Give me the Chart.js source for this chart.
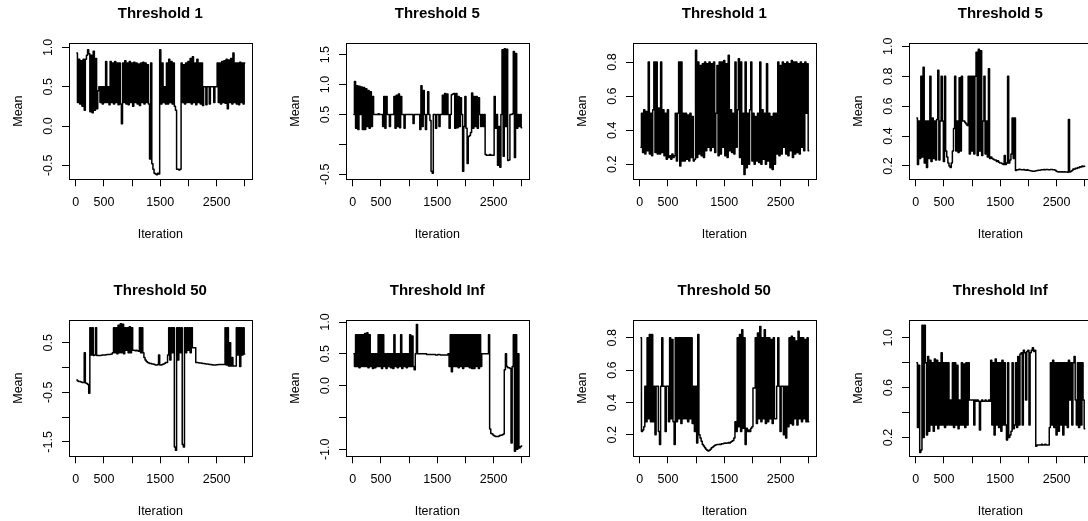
<!DOCTYPE html>
<html>
<head>
<meta charset="utf-8">
<script src="https://cdn.jsdelivr.net/npm/chart.js@4.4.1/dist/chart.umd.min.js"></script>
<style>
  html, body { margin: 0; padding: 0; background: #fff; overflow: hidden; }
  #wrap { position: relative; width: 1088px; height: 521px; overflow: hidden; }
  #wrap canvas { position: absolute; }
</style>
</head>
<body>
<div id="wrap"></div>
<script>
const FONT = '"Liberation Sans", Arial, Helvetica, sans-serif';
const STEP = 20; // iterations between stored samples

const xTicks = [0, 500, 1000, 1500, 2000, 2500, 3000];
const xTickLabels = ["0", "500", "", "1500", "", "2500", ""];
const xRange = [-120, 3120];

// ---- left figure, top row: Threshold 1
const meanT1Left = [
  0.93, 0.3, 0.85, 0.28, 0.83, 0.25, 0.85, 0.2, 0.85, 0.9,
  0.97, 0.92, 0.18, 0.9, 0.17, 0.95, 0.2, 0.86, 0.22, 0.45,
  0.5, 0.3, 0.5, 0.28, 0.5, 0.3, 0.82, 0.3, 0.5, 0.27,
  0.82, 0.3, 0.8, 0.28, 0.82, 0.3, 0.8, 0.27, 0.8, 0.28,
  0.03, 0.8, 0.3, 0.83, 0.28, 0.8, 0.27, 0.82, 0.3, 0.8,
  0.25, 0.81, 0.3, 0.8, 0.28, 0.79, 0.26, 0.8, 0.3, 0.81,
  0.28, 0.8, 0.3, 0.78, 0.28, -0.42, 0.8, -0.48, -0.55, -0.6,
  -0.61, -0.62, -0.6, -0.61, 0.97, 0.28, 0.8, 0.3, 0.5, 0.28,
  0.8, 0.28, 0.85, 0.3, 0.82, 0.28, 0.8, 0.25, 0.2, -0.55,
  -0.55, -0.56, -0.55, 0.8, 0.3, 0.78, 0.28, 0.8, 0.3, 0.82,
  0.3, 0.86, 0.28, 0.88, 0.3, 0.8, 0.27, 0.85, 0.3, 0.8,
  0.28, 0.8, 0.26, 0.5, 0.5, 0.27, 0.5, 0.5, 0.28, 0.5,
  0.5, 0.5, 0.3, 0.5, 0.5, 0.8, 0.3, 0.8, 0.28, 0.82,
  0.3, 0.83, 0.29, 0.85, 0.22, 0.84, 0.3, 0.86, 0.28, 0.93,
  0.3, 0.8, 0.28, 0.8, 0.27, 0.81, 0.3, 0.8, 0.28, 0.8
];
const ticksT1Left = [-0.5, 0, 0.5, 1];
const labelsT1Left = ["-0.5", "0.0", "0.5", "1.0"];
const rangeT1Left = [-0.678, 1.056];

// ---- left figure, top row: Threshold 5
const meanT5Left = [
  0.5, 1.05, 0.27, 0.98, 0.25, 0.97, 0.5, 0.96, 0.25, 0.95,
  0.25, 0.93, 0.3, 0.9, 0.27, 0.88, 0.3, 0.8, 0.5, 0.5,
  0.5, 0.5, 0.51, 0.5, 0.5, 0.5, 0.3, 0.8, 0.27, 0.8,
  0.5, 0.5, 0.3, 0.5, 0.5, 0.5, 0.8, 0.27, 0.82, 0.3,
  0.84, 0.28, 0.8, 0.5, 0.5, 0.27, 0.5, 0.5, 0.5, 0.5,
  0.5, 0.5, 0.5, 0.35, 0.5, 0.5, 0.5, 0.5, 0.5, 0.25,
  0.98, 0.3, 0.9, 0.5, 0.25, 0.5, 0.88, 0.5, 0.4, -0.45,
  -0.48, 0.5, 0.5, 0.27, 0.5, 0.5, 0.3, 0.5, 0.5, 0.82,
  0.5, 0.85, 0.5, 0.84, 0.5, 0.27, 0.5, 0.83, 0.84, 0.85,
  0.27, 0.85, 0.28, 0.8, 0.3, 0.78, 0.5, -0.45, 0.3, 0.8,
  0.27, -0.32, 0.13, 0.15, 0.2, 0.86, 0.27, 0.8, 0.3, 0.8,
  0.27, 0.78, 0.5, 0.3, 0.5, 0.3, 0.5, -0.17, -0.18, -0.18,
  -0.18, -0.17, -0.18, -0.18, -0.18, 0.8, 0.27, 0.5, -0.35, 0.3,
  -0.38, 0.5, 1.58, -0.2, 1.6, 0.3, 1.59, -0.27, -0.26, 0.5,
  0.5, 0.51, 1.55, -0.22, 1.52, 0.27, 0.5, 0.3, 0.5, 0.28
];
const ticksT5Left = [-0.5, 0, 0.5, 1, 1.5];
const labelsT5Left = ["-0.5", "", "0.5", "1.0", "1.5"];
const rangeT5Left = [-0.583, 1.694];

// ---- right figure, top row: Threshold 1
const meanT1Right = [
  0.3, 0.5, 0.27, 0.52, 0.26, 0.51, 0.28, 0.8, 0.26, 0.5,
  0.25, 0.52, 0.8, 0.27, 0.8, 0.26, 0.53, 0.26, 0.8, 0.27,
  0.52, 0.25, 0.5, 0.23, 0.52, 0.24, 0.25, 0.23, 0.26, 0.24,
  0.25, 0.5, 0.22, 0.5, 0.8, 0.19, 0.8, 0.22, 0.5, 0.22,
  0.5, 0.23, 0.49, 0.22, 0.5, 0.24, 0.48, 0.22, 0.23, 0.87,
  0.24, 0.8, 0.26, 0.78, 0.25, 0.79, 0.24, 0.8, 0.28, 0.79,
  0.3, 0.8, 0.28, 0.79, 0.3, 0.8, 0.27, 0.5, 0.78, 0.25,
  0.8, 0.26, 0.8, 0.3, 0.81, 0.25, 0.79, 0.24, 0.84, 0.28,
  0.52, 0.27, 0.5, 0.26, 0.8, 0.3, 0.52, 0.82, 0.24, 0.8,
  0.2, 0.5, 0.14, 0.8, 0.18, 0.5, 0.2, 0.52, 0.8, 0.22,
  0.5, 0.2, 0.48, 0.22, 0.5, 0.21, 0.8, 0.2, 0.52, 0.23,
  0.5, 0.2, 0.79, 0.22, 0.5, 0.18, 0.48, 0.17, 0.5, 0.2,
  0.5, 0.26, 0.8, 0.25, 0.78, 0.26, 0.8, 0.3, 0.79, 0.26,
  0.8, 0.25, 0.79, 0.28, 0.81, 0.24, 0.8, 0.26, 0.8, 0.27,
  0.79, 0.26, 0.8, 0.3, 0.79, 0.28, 0.8, 0.5, 0.79, 0.28
];
const ticksT1Right = [0.2, 0.4, 0.6, 0.8];
const labelsT1Right = ["0.2", "0.4", "0.6", "0.8"];
const rangeT1Right = [0.112, 0.912];

// ---- right figure, top row: Threshold 5
const meanT5Right = [
  0.52, 0.21, 0.5, 0.25, 0.8, 0.26, 0.86, 0.22, 0.5, 0.19,
  0.5, 0.25, 0.8, 0.23, 0.52, 0.25, 0.5, 0.24, 0.51, 0.84,
  0.24, 0.5, 0.8, 0.5, 0.23, 0.8, 0.3, 0.26, 0.22, 0.2,
  0.19, 0.22, 0.3, 0.45, 0.8, 0.3, 0.5, 0.29, 0.79, 0.3,
  0.8, 0.5, 0.5, 0.49, 0.48, 0.47, 0.8, 0.28, 0.8, 0.3,
  0.8, 0.28, 0.8, 0.96, 0.27, 0.98, 0.3, 0.97, 0.27, 0.5,
  0.8, 0.28, 0.5, 0.26, 0.85, 0.25, 0.26, 0.25, 0.245, 0.24,
  0.24, 0.23, 0.235, 0.225, 0.22, 0.22, 0.215, 0.21, 0.27, 0.21,
  0.22, 0.8, 0.22, 0.24, 0.28, 0.52, 0.25, 0.52, 0.17, 0.175,
  0.175, 0.178, 0.176, 0.174, 0.175, 0.177, 0.173, 0.172, 0.174, 0.171,
  0.17, 0.168, 0.166, 0.165, 0.164, 0.166, 0.168, 0.17, 0.172, 0.171,
  0.173, 0.175, 0.174, 0.176, 0.175, 0.177, 0.176, 0.174, 0.175, 0.176,
  0.176, 0.175, 0.174, 0.172, 0.165, 0.162, 0.16, 0.161, 0.16, 0.162,
  0.16, 0.161, 0.159, 0.16, 0.158, 0.51, 0.16, 0.165, 0.17, 0.18,
  0.178, 0.185, 0.183, 0.19, 0.188, 0.195, 0.193, 0.2, 0.197, 0.198
];
const ticksT5Right = [0.2, 0.4, 0.6, 0.8, 1.0];
const labelsT5Right = ["0.2", "0.4", "0.6", "0.8", "1.0"];
const rangeT5Right = [0.111, 1.022];

// ---- left figure, bottom row: Threshold 50
const meanT50Left = [
  -0.25, -0.27, -0.28, -0.28, -0.29, -0.3, -0.3, 0.3, -0.31, -0.32,
  -0.34, -0.52, 0.8, 0.25, 0.8, 0.24, 0.25, 0.8, 0.24, 0.24,
  0.24, 0.24, 0.245, 0.25, 0.25, 0.25, 0.255, 0.26, 0.26, 0.26,
  0.265, 0.27, 0.3, 0.8, 0.3, 0.8, 0.28, 0.85, 0.3, 0.88,
  0.3, 0.87, 0.28, 0.8, 0.35, 0.8, 0.3, 0.82, 0.3, 0.8,
  0.35, 0.35, 0.34, 0.35, 0.34, 0.33, 0.8, 0.3, 0.8, 0.3,
  0.2, 0.15, 0.12, 0.1, 0.09, 0.08, 0.08, 0.07, 0.07, 0.06,
  0.05, 0.05, 0.06, 0.25, 0.05, 0.05, 0.06, 0.07, 0.08, 0.1,
  0.1, 0.25, 0.8, 0.15, 0.8, 0.3, 0.8, -1.6, -1.67, 0.8,
  0.15, 0.8, 0.3, 0.8, -1.55, -1.6, 0.8, 0.3, 0.8, 0.35,
  0.8, 0.3, 0.8, 0.4, 0.4, 0.4, 0.1, 0.1, 0.095, 0.09,
  0.09, 0.085, 0.08, 0.08, 0.075, 0.07, 0.07, 0.065, 0.06, 0.06,
  0.055, 0.05, 0.05, 0.05, 0.055, 0.055, 0.06, 0.06, 0.06, 0.06,
  0.06, 0.06, 0.8, 0.05, 0.8, 0.03, 0.5, 0.03, 0.2, 0.03,
  0.03, 0.03, 0.8, 0.25, 0.8, 0.02, 0.8, 0.25, 0.8, 0.27
];
const ticksT50Left = [-1.5, -1, -0.5, 0, 0.5];
const labelsT50Left = ["-1.5", "", "-0.5", "", "0.5"];
const rangeT50Left = [-1.79, 0.958];

// ---- left figure, bottom row: Threshold Inf
const meanTInfLeft = [
  0.5, 0.3, 0.8, 0.3, 0.8, 0.28, 0.8, 0.3, 0.8, 0.3,
  0.82, 0.3, 0.83, 0.28, 0.8, 0.3, 0.5, 0.27, 0.5, 0.28,
  0.5, 0.3, 0.8, 0.3, 0.8, 0.27, 0.8, 0.3, 0.5, 0.27,
  0.5, 0.3, 0.5, 0.28, 0.5, 0.27, 0.8, 0.3, 0.5, 0.28,
  0.5, 0.3, 0.8, 0.27, 0.5, 0.3, 0.5, 0.28, 0.5, 0.3,
  0.8, 0.3, 0.78, 0.3, 0.25, 0.5, 0.96, 0.5, 0.5, 0.5,
  0.5, 0.5, 0.5, 0.5, 0.5, 0.49, 0.49, 0.49, 0.49, 0.49,
  0.49, 0.49, 0.49, 0.48, 0.48, 0.49, 0.49, 0.48, 0.48, 0.48,
  0.48, 0.48, 0.48, 0.48, 0.5, 0.3, 0.8, 0.22, 0.8, 0.3,
  0.8, 0.3, 0.8, 0.28, 0.8, 0.3, 0.8, 0.27, 0.8, 0.3,
  0.8, 0.3, 0.8, 0.28, 0.8, 0.27, 0.8, 0.27, 0.8, 0.3,
  0.8, 0.27, 0.8, 0.3, 0.5, 0.5, 0.5, 0.5, 0.5, 0.5,
  0.8, -0.68, -0.75, -0.76, -0.78, -0.79, -0.8, -0.8, -0.8, -0.79,
  -0.78, -0.78, -0.77, -0.76, 0.25, 0.5, 0.3, 0.28, 0.28, 0.27,
  -0.9, 0.3, 0.8, -1.03, 0.8, -1.0, 0.5, -0.98, -0.96, -0.95
];
const ticksTInfLeft = [-1, -0.5, 0, 0.5, 1];
const labelsTInfLeft = ["-1.0", "", "0.0", "0.5", "1.0"];
const rangeTInfLeft = [-1.11, 1.032];

// ---- right figure, bottom row: Threshold 50
const meanT50Right = [
  0.8, 0.22, 0.23, 0.25, 0.5, 0.28, 0.8, 0.3, 0.82, 0.28,
  0.82, 0.28, 0.5, 0.2, 0.5, 0.5, 0.22, 0.14, 0.5, 0.8,
  0.5, 0.5, 0.22, 0.5, 0.5, 0.28, 0.8, 0.3, 0.79, 0.28,
  0.14, 0.8, 0.28, 0.8, 0.3, 0.8, 0.27, 0.8, 0.3, 0.8,
  0.3, 0.8, 0.28, 0.8, 0.3, 0.8, 0.27, 0.5, 0.22, 0.5,
  0.15, 0.82, 0.2, 0.18, 0.16, 0.14, 0.13, 0.12, 0.11, 0.105,
  0.1, 0.105, 0.11, 0.12, 0.125, 0.13, 0.135, 0.138, 0.14, 0.14,
  0.142, 0.14, 0.145, 0.145, 0.148, 0.15, 0.148, 0.15, 0.152, 0.15,
  0.155, 0.16, 0.165, 0.18, 0.28, 0.22, 0.8, 0.25, 0.82, 0.22,
  0.85, 0.24, 0.8, 0.14, 0.24, 0.22, 0.23, 0.22, 0.24, 0.25,
  0.49, 0.49, 0.8, 0.27, 0.83, 0.3, 0.87, 0.28, 0.8, 0.3,
  0.85, 0.27, 0.8, 0.28, 0.8, 0.3, 0.79, 0.27, 0.8, 0.3,
  0.3, 0.5, 0.8, 0.5, 0.22, 0.5, 0.5, 0.2, 0.5, 0.18,
  0.5, 0.25, 0.8, 0.27, 0.81, 0.26, 0.8, 0.3, 0.78, 0.26,
  0.84, 0.3, 0.8, 0.28, 0.8, 0.3, 0.79, 0.28, 0.8, 0.28
];
const ticksT50Right = [0.2, 0.4, 0.6, 0.8];
const labelsT50Right = ["0.2", "0.4", "0.6", "0.8"];
const rangeT50Right = [0.067, 0.91];

// ---- right figure, bottom row: Threshold Inf
const meanTInfRight = [
  0.8, 0.28, 0.78, 0.08, 0.1, 1.1, 0.2, 1.1, 0.8, 0.22,
  0.85, 0.25, 0.82, 0.3, 0.8, 0.25, 0.83, 0.3, 0.82, 0.27,
  0.8, 0.3, 0.88, 0.3, 0.8, 0.28, 0.8, 0.3, 0.8, 0.3,
  0.5, 0.3, 0.8, 0.28, 0.8, 0.3, 0.78, 0.27, 0.5, 0.3,
  0.8, 0.3, 0.79, 0.28, 0.8, 0.3, 0.8, 0.5, 0.5, 0.5,
  0.5, 0.3, 0.5, 0.49, 0.5, 0.49, 0.26, 0.49, 0.5, 0.49,
  0.49, 0.5, 0.49, 0.49, 0.5, 0.49, 0.82, 0.3, 0.8, 0.22,
  0.83, 0.3, 0.8, 0.28, 0.8, 0.25, 0.82, 0.3, 0.8, 0.3,
  0.18, 0.8, 0.2, 0.22, 0.25, 0.8, 0.27, 0.3, 0.8, 0.28,
  0.85, 0.3, 0.87, 0.88, 0.3, 0.9, 0.88, 0.5, 0.89, 0.9,
  0.3, 0.88, 0.9, 0.92, 0.89, 0.9, 0.13, 0.14, 0.14, 0.14,
  0.14, 0.145, 0.14, 0.14, 0.145, 0.14, 0.14, 0.14, 0.28, 0.8,
  0.3, 0.82, 0.28, 0.8, 0.22, 0.8, 0.25, 0.8, 0.3, 0.8,
  0.22, 0.8, 0.3, 0.8, 0.28, 0.82, 0.5, 0.8, 0.3, 0.8,
  0.85, 0.5, 0.3, 0.8, 0.28, 0.8, 0.3, 0.8, 0.5, 0.27
];
const ticksTInfRight = [0.2, 0.4, 0.6, 0.8, 1.0];
const labelsTInfRight = ["0.2", "", "0.6", "", "1.0"];
const rangeTInfRight = [0.049, 1.143];

const panels = [
  { title: "Threshold 1", values: meanT1Left, ticks: ticksT1Left, labels: labelsT1Left, range: rangeT1Left, left: 0, top: 0 },
  { title: "Threshold 5", values: meanT5Left, ticks: ticksT5Left, labels: labelsT5Left, range: rangeT5Left, left: 277, top: 0 },
  { title: "Threshold 1", values: meanT1Right, ticks: ticksT1Right, labels: labelsT1Right, range: rangeT1Right, left: 564, top: 0 },
  { title: "Threshold 5", values: meanT5Right, ticks: ticksT5Right, labels: labelsT5Right, range: rangeT5Right, left: 840, top: 0 },
  { title: "Threshold 50", values: meanT50Left, ticks: ticksT50Left, labels: labelsT50Left, range: rangeT50Left, left: 0, top: 277 },
  { title: "Threshold Inf", values: meanTInfLeft, ticks: ticksTInfLeft, labels: labelsTInfLeft, range: rangeTInfLeft, left: 277, top: 277 },
  { title: "Threshold 50", values: meanT50Right, ticks: ticksT50Right, labels: labelsT50Right, range: rangeT50Right, left: 564, top: 277 },
  { title: "Threshold Inf", values: meanTInfRight, ticks: ticksTInfRight, labels: labelsTInfRight, range: rangeTInfRight, left: 840, top: 277 }
];

// box, title, rotated y labels and axis titles in the style of base R
const rFrame = {
  id: "rFrame",
  afterDraw(chart, args, opts) {
    const { ctx, chartArea: a } = chart;
    const yScale = chart.scales.y;
    const cx = (a.left + a.right) / 2;
    const cy = (a.top + a.bottom) / 2;

    ctx.save();
    ctx.strokeStyle = "#000";
    ctx.lineWidth = 1;
    ctx.strokeRect(Math.round(a.left) + 0.5, Math.round(a.top) + 0.5,
      Math.round(a.right - a.left), Math.round(a.bottom - a.top));

    ctx.fillStyle = "#000";
    ctx.textAlign = "center";
    ctx.textBaseline = "alphabetic";
    ctx.font = "bold 15px " + FONT;
    ctx.fillText(opts.title, cx, a.top - 25.5);

    ctx.font = "12.5px " + FONT;
    ctx.fillText("Iteration", cx, a.bottom + 58.5);

    yScale.ticks.forEach((t, i) => {
      const lab = opts.labels[i];
      if (!lab) return;
      ctx.save();
      ctx.translate(a.left - 17, yScale.getPixelForValue(t.value));
      ctx.rotate(-Math.PI / 2);
      ctx.fillText(lab, 0, 0);
      ctx.restore();
    });

    ctx.save();
    ctx.translate(a.left - 47.5, cy);
    ctx.rotate(-Math.PI / 2);
    ctx.fillText("Mean", 0, 0);
    ctx.restore();
    ctx.restore();
  }
};

const wrap = document.getElementById("wrap");

panels.forEach((p) => {
  const canvas = document.createElement("canvas");
  canvas.width = 277;
  canvas.height = 277;
  canvas.style.left = p.left + "px";
  canvas.style.top = p.top + "px";
  wrap.appendChild(canvas);

  const points = p.values.map((v, i) => ({ x: (i + 1) * STEP, y: v }));

  new Chart(canvas.getContext("2d"), {
    type: "line",
    data: {
      datasets: [{
        data: points,
        borderColor: "#000",
        borderWidth: 1.5,
        borderJoinStyle: "round",
        borderCapStyle: "round",
        stepped: "middle",
        pointRadius: 0,
        fill: false
      }]
    },
    plugins: [rFrame],
    options: {
      responsive: false,
      animation: false,
      devicePixelRatio: 1,
      layout: { padding: { left: 49, right: 25.5, top: 43, bottom: 37.7 } },
      plugins: {
        legend: { display: false },
        tooltip: { enabled: false },
        rFrame: { title: p.title, labels: p.labels }
      },
      scales: {
        x: {
          type: "linear",
          min: xRange[0],
          max: xRange[1],
          afterBuildTicks: (s) => { s.ticks = xTicks.map((v) => ({ value: v })); },
          afterFit: (s) => { s.height = 60; },
          border: { display: false },
          grid: { drawOnChartArea: false, drawTicks: true, tickLength: 7, color: "#000", lineWidth: 1 },
          ticks: {
            autoSkip: false,
            maxRotation: 0,
            padding: 8.5,
            color: "#000",
            font: { family: FONT, size: 12.5 },
            callback: (v, i) => xTickLabels[i]
          }
        },
        y: {
          type: "linear",
          min: p.range[0],
          max: p.range[1],
          afterBuildTicks: (s) => { s.ticks = p.ticks.map((v) => ({ value: v })); },
          afterFit: (s) => { s.width = 20; },
          border: { display: false },
          grid: { drawOnChartArea: false, drawTicks: true, tickLength: 7, color: "#000", lineWidth: 1 },
          ticks: { display: false }
        }
      }
    }
  });
});
</script>
</body>
</html>
